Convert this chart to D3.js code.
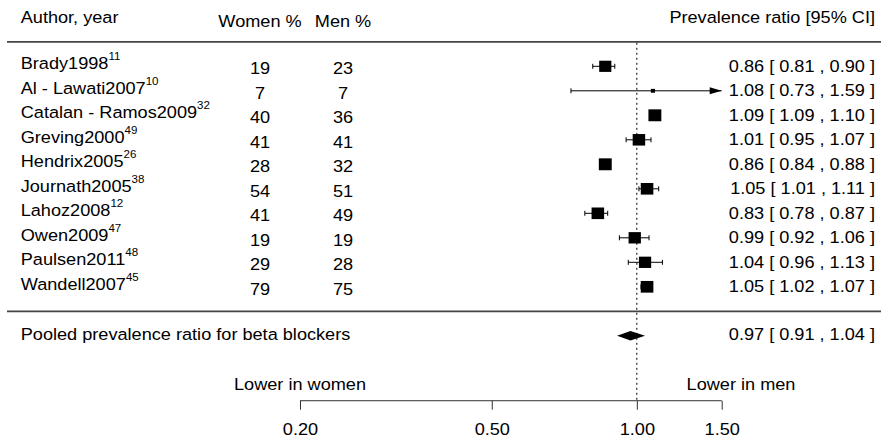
<!DOCTYPE html>
<html>
<head>
<meta charset="utf-8">
<script src="https://cdn.jsdelivr.net/npm/d3@7"></script>
<style>
    body { margin: 0; background: #fff; }
    #forest svg { display: block; }
</style>
</head>
<body>
<div id="forest"></div>
<script>
// Study data
const authors = ["Brady1998", "Al - Lawati2007", "Catalan - Ramos2009", "Greving2000", "Hendrix2005",
    "Journath2005", "Lahoz2008", "Owen2009", "Paulsen2011", "Wandell2007"];
const refs = ["11", "10", "32", "49", "26", "38", "12", "47", "48", "45"];
const womenPct = [19, 7, 40, 41, 28, 54, 41, 19, 29, 79];
const menPct = [23, 7, 36, 41, 32, 51, 49, 19, 28, 75];
const ratio = [0.86, 1.08, 1.09, 1.01, 0.86, 1.05, 0.83, 0.99, 1.04, 1.05];
const ciLower = [0.81, 0.73, 1.09, 0.95, 0.84, 1.01, 0.78, 0.92, 0.96, 1.02];
const ciUpper = [0.90, 1.59, 1.10, 1.07, 0.88, 1.11, 0.87, 1.06, 1.13, 1.07];
// study weights (estimated from square sizes)
const weights = [10.6, 1.0, 11.5, 11.0, 11.5, 11.1, 11.1, 10.8, 10.7, 11.2];

// Pooled estimate: [ratio, lower, upper]
const pooled = [0.97, 0.91, 1.04];
const pooledLabel = "Pooled prevalence ratio for beta blockers";

// Axis
const axisTicks = [0.2, 0.5, 1.0, 1.5];
const axisTickLabels = ["0.20", "0.50", "1.00", "1.50"];

const width = 881, height = 442;
const fontSize = 16.5, stretch = 1.1;
const fontFamily = "'Liberation Sans', Arial, Helvetica, sans-serif";
const fmt = d3.format(".2f");

const svg = d3.select("#forest")
    .append("svg")
    .attr("width", width)
    .attr("height", height)
    .style("font-family", fontFamily);

// x: log scale for prevalence ratio, y: row positions
const x = d3.scaleLog().domain([0.2, 1.5]).range([300, 721.7]);
const y = d3.scaleLinear().domain([0, 9]).range([66.3, 286.8]);
const size = d3.scaleLinear().domain(d3.extent(weights)).range([4, 12.4]);

const rows = authors.map((a, i) => ({
    author: a, ref: refs[i], women: womenPct[i], men: menPct[i],
    est: ratio[i], lo: ciLower[i], hi: ciUpper[i], w: weights[i], row: i
}));

// helper for slightly stretched text, like the original export
function addText(px, py, str, anchor) {
    return svg.append("text")
        .attr("transform", `translate(${px},${py}) scale(${stretch},1)`)
        .attr("text-anchor", anchor || "start")
        .style("font-size", fontSize + "px")
        .attr("fill", "#000")
        .text(str);
}

// Column headers
addText(20.7, y(-2) + 5.4, "Author, year");
addText(260, y(-2) + 9.4, "Women %", "middle");
addText(343, y(-2) + 9.4, "Men %", "middle");
addText(875, y(-2) + 5.4, "Prevalence ratio [95% CI]", "end");

// Horizontal rules
[y(-1), y(10)].forEach(ly => {
    svg.append("line")
        .attr("x1", 7).attr("x2", width)
        .attr("y1", ly).attr("y2", ly)
        .attr("stroke", "#444")
        .attr("stroke-width", 1.8);
});

// Reference line at 1
svg.append("line")
    .attr("x1", x(1)).attr("x2", x(1))
    .attr("y1", y(-1) + 1).attr("y2", y(13.65))
    .attr("stroke", "#000")
    .attr("stroke-width", 1)
    .attr("stroke-dasharray", "2,3");

// Study labels with superscript references
rows.forEach(d => {
    const t = addText(20.7, y(d.row) + 2.7, null);
    t.append("tspan").text(d.author);
    t.append("tspan")
        .attr("dy", -9)
        .style("font-size", "10.5px")
        .text(d.ref);
});

// Women / Men % columns
rows.forEach(d => {
    addText(260, y(d.row) + 7.7, d.women, "middle");
    addText(343, y(d.row) + 7.7, d.men, "middle");
});

// Confidence intervals (clipped at axis limits, arrow if beyond)
const [xmin, xmax] = x.domain();
const ci = svg.append("g").attr("stroke", "#000").attr("stroke-width", 1);
rows.forEach(d => {
    const cy = y(d.row);
    const lo = Math.max(d.lo, xmin), hi = Math.min(d.hi, xmax);
    ci.append("line")
        .attr("x1", x(lo)).attr("x2", x(hi))
        .attr("y1", cy).attr("y2", cy);
    if (d.lo >= xmin) {
        ci.append("line").attr("x1", x(d.lo)).attr("x2", x(d.lo))
            .attr("y1", cy - 2.5).attr("y2", cy + 2.5);
    }
    if (d.hi <= xmax) {
        ci.append("line").attr("x1", x(d.hi)).attr("x2", x(d.hi))
            .attr("y1", cy - 2.5).attr("y2", cy + 2.5);
    } else {
        const tip = x(xmax);
        svg.append("path")
            .attr("d", `M${tip},${cy} L${tip - 12},${cy - 3.5} L${tip - 12},${cy + 3.5} Z`)
            .attr("fill", "#000");
    }
});

// Point estimates as squares sized by weight
svg.selectAll(".est")
    .data(rows)
    .enter()
    .append("rect")
    .attr("class", "est")
    .attr("x", d => x(d.est) - size(d.w) * 0.52)
    .attr("y", d => y(d.row) - size(d.w) * 0.48)
    .attr("width", d => size(d.w) * 1.04)
    .attr("height", d => size(d.w) * 0.96)
    .attr("fill", "#000");

// CI text
rows.forEach(d => {
    addText(875, y(d.row) + 5.5, `${fmt(d.est)} [ ${fmt(d.lo)} , ${fmt(d.hi)} ]`, "end");
});

// Pooled diamond
const py = y(11);
svg.append("path")
    .attr("d", `M${x(pooled[1])},${py} L${x(pooled[0])},${py - 4.7} L${x(pooled[2])},${py} L${x(pooled[0])},${py + 4.7} Z`)
    .attr("fill", "#000");
addText(20.7, py + 4, pooledLabel);
addText(875, py + 4, `${fmt(pooled[0])} [ ${fmt(pooled[1])} , ${fmt(pooled[2])} ]`, "end");

// Bottom axis
const axisY = y(13.65);
const axis = svg.append("g")
    .attr("transform", `translate(0,${axisY})`)
    .call(d3.axisBottom(x)
        .tickValues(axisTicks)
        .tickFormat((d, i) => axisTickLabels[i])
        .tickSize(9)
        .tickSizeOuter(0)
        .tickPadding(14));
axis.select(".domain").attr("stroke", "#333").attr("d", `M${x(xmin)},0H${x(xmax)}`);
axis.selectAll(".tick line").attr("stroke", "#333");
axis.selectAll(".tick text")
    .style("font-size", fontSize + "px")
    .style("font-family", fontFamily)
    .attr("fill", "#000")
    .attr("transform", `scale(${stretch},1)`);

// Direction labels
addText(300, axisY - 11, "Lower in women", "middle");
addText(741, axisY - 11, "Lower in men", "middle");
</script>
</body>
</html>
